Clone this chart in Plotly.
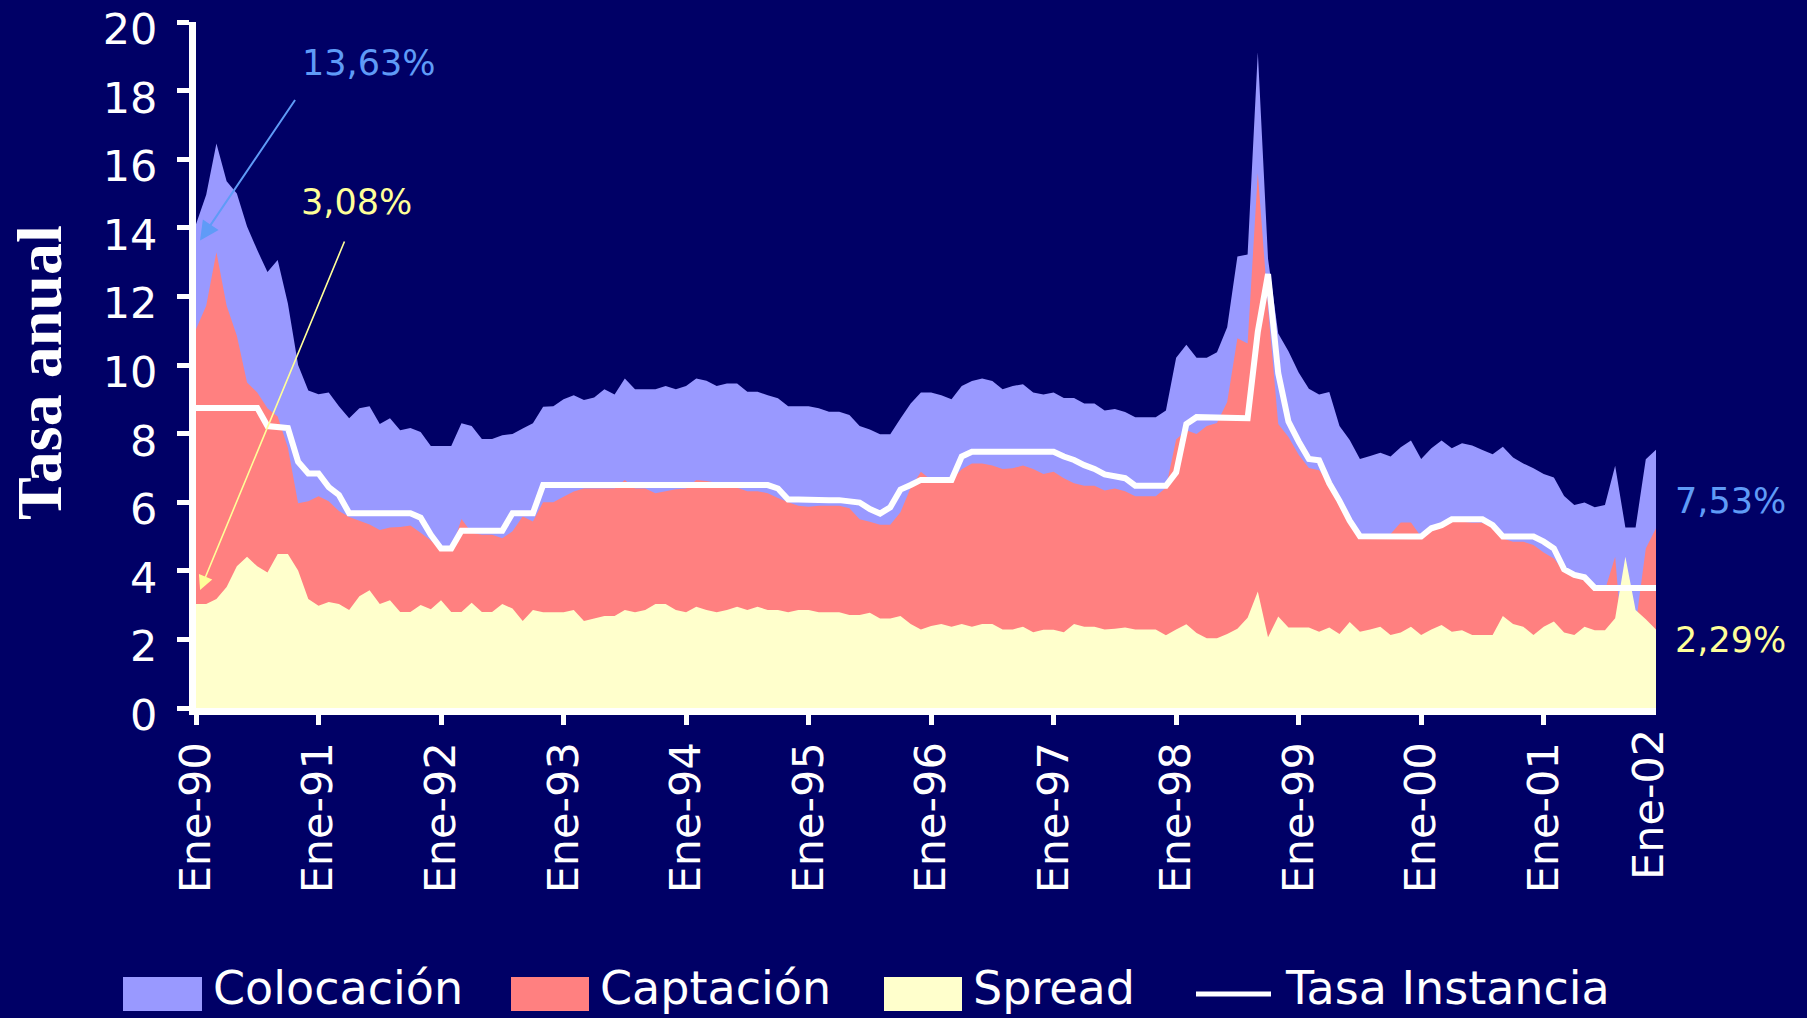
import plotly.graph_objects as go

# ---------------- data (monthly, Ene-90 .. Dic-01) ----------------
meses_abrev = ["Ene", "Feb", "Mar", "Abr", "May", "Jun", "Jul", "Ago", "Sep", "Oct", "Nov", "Dic"]
anios = ["90", "91", "92", "93", "94", "95", "96", "97", "98", "99", "00", "01"]
fechas = [f"{m}-{a}" for a in anios for m in meses_abrev]

colocacion = [
    14.10, 14.96, 16.46, 15.36, 15.00, 14.04, 13.35, 12.71, 13.06, 11.79, 10.00, 9.26,
    9.15, 9.20, 8.80, 8.45, 8.74, 8.80, 8.28, 8.45, 8.10, 8.16, 8.05, 7.64,
    7.64, 7.64, 8.30, 8.22, 7.84, 7.84, 7.95, 7.99, 8.15, 8.30, 8.78, 8.80,
    9.00, 9.12, 8.98, 9.05, 9.29, 9.14, 9.61, 9.29, 9.29, 9.29, 9.39, 9.29,
    9.39, 9.61, 9.54, 9.39, 9.46, 9.46, 9.22, 9.22, 9.12, 9.03, 8.80, 8.80,
    8.80, 8.74, 8.64, 8.64, 8.54, 8.22, 8.12, 7.98, 7.98, 8.44, 8.88, 9.20,
    9.20, 9.12, 9.00, 9.39, 9.53, 9.61, 9.53, 9.29, 9.39, 9.44, 9.20, 9.14,
    9.20, 9.04, 9.04, 8.88, 8.88, 8.67, 8.72, 8.63, 8.48, 8.48, 8.48, 8.67,
    10.21, 10.59, 10.21, 10.21, 10.37, 11.10, 13.16, 13.22, 19.12, 13.10, 10.92, 10.40,
    9.78, 9.31, 9.14, 9.21, 8.22, 7.81, 7.26, 7.35, 7.44, 7.33, 7.60, 7.80,
    7.26, 7.57, 7.80, 7.57, 7.72, 7.65, 7.52, 7.40, 7.62, 7.30, 7.13, 6.99,
    6.82, 6.72, 6.18, 5.92, 5.99, 5.85, 5.92, 7.06, 5.26, 5.26, 7.25, 7.53,
]

captacion = [
    11.04, 11.73, 13.29, 11.73, 10.85, 9.49, 9.20, 8.74, 8.50, 7.59, 5.97, 6.03,
    6.17, 6.03, 5.74, 5.57, 5.46, 5.35, 5.19, 5.26, 5.28, 5.32, 5.11, 4.88,
    4.65, 4.60, 5.51, 5.11, 5.05, 5.05, 4.95, 5.15, 5.58, 5.44, 6.00, 6.00,
    6.16, 6.31, 6.40, 6.40, 6.40, 6.40, 6.65, 6.40, 6.40, 6.26, 6.32, 6.38,
    6.40, 6.65, 6.62, 6.57, 6.50, 6.42, 6.32, 6.32, 6.26, 6.12, 6.00, 5.90,
    5.87, 5.90, 5.90, 5.90, 5.82, 5.50, 5.43, 5.34, 5.34, 5.71, 6.42, 6.89,
    6.65, 6.65, 6.65, 6.96, 7.13, 7.13, 7.07, 6.97, 6.99, 7.07, 6.97, 6.82,
    6.89, 6.70, 6.55, 6.48, 6.48, 6.34, 6.40, 6.32, 6.17, 6.17, 6.17, 6.42,
    7.83, 8.10, 7.99, 8.22, 8.31, 8.92, 10.78, 10.63, 15.60, 11.68, 8.28, 7.90,
    7.38, 7.00, 6.93, 6.55, 6.04, 5.59, 5.01, 5.01, 5.01, 5.07, 5.41, 5.41,
    4.99, 5.24, 5.33, 5.43, 5.43, 5.40, 5.40, 5.31, 4.94, 4.85, 4.85, 4.75,
    4.53, 4.36, 3.98, 3.83, 3.71, 3.44, 3.44, 4.41, 0.86, 2.40, 4.65, 5.24,
]

spread = [
    3.03, 3.03, 3.18, 3.53, 4.13, 4.41, 4.13, 3.95, 4.49, 4.49, 4.01, 3.18,
    2.98, 3.09, 3.03, 2.86, 3.26, 3.43, 3.03, 3.14, 2.80, 2.80, 3.00, 2.88,
    3.14, 2.80, 2.80, 3.07, 2.80, 2.80, 3.03, 2.90, 2.54, 2.86, 2.79, 2.79,
    2.79, 2.86, 2.54, 2.61, 2.68, 2.68, 2.86, 2.79, 2.86, 3.03, 3.03, 2.86,
    2.79, 2.95, 2.86, 2.79, 2.86, 2.95, 2.86, 2.95, 2.86, 2.86, 2.79, 2.86,
    2.86, 2.79, 2.79, 2.79, 2.71, 2.71, 2.78, 2.61, 2.61, 2.68, 2.45, 2.29,
    2.39, 2.45, 2.37, 2.45, 2.37, 2.45, 2.45, 2.29, 2.29, 2.37, 2.21, 2.28,
    2.28, 2.21, 2.45, 2.37, 2.37, 2.29, 2.31, 2.35, 2.29, 2.29, 2.29, 2.12,
    2.29, 2.44, 2.19, 2.03, 2.03, 2.16, 2.31, 2.63, 3.40, 2.06, 2.67, 2.35,
    2.35, 2.35, 2.22, 2.35, 2.16, 2.51, 2.22, 2.29, 2.37, 2.13, 2.20, 2.37,
    2.13, 2.29, 2.42, 2.22, 2.27, 2.13, 2.13, 2.13, 2.68, 2.45, 2.37, 2.13,
    2.37, 2.52, 2.20, 2.13, 2.37, 2.27, 2.27, 2.62, 4.41, 2.86, 2.59, 2.29,
]

tasa_instancia = [
    8.75, 8.75, 8.75, 8.75, 8.75, 8.75, 8.75, 8.22, 8.20, 8.16, 7.18, 6.84,
    6.84, 6.44, 6.21, 5.68, 5.68, 5.68, 5.68, 5.68, 5.68, 5.68, 5.55, 5.05,
    4.65, 4.65, 5.17, 5.17, 5.17, 5.17, 5.17, 5.68, 5.68, 5.68, 6.50, 6.50,
    6.50, 6.50, 6.50, 6.50, 6.50, 6.50, 6.50, 6.50, 6.50, 6.50, 6.50, 6.50,
    6.50, 6.50, 6.50, 6.50, 6.50, 6.50, 6.50, 6.50, 6.50, 6.40, 6.08, 6.08,
    6.06, 6.06, 6.06, 6.06, 6.03, 5.99, 5.80, 5.67, 5.85, 6.37, 6.50, 6.65,
    6.65, 6.65, 6.65, 7.33, 7.47, 7.47, 7.47, 7.47, 7.47, 7.47, 7.47, 7.47,
    7.47, 7.33, 7.23, 7.08, 6.97, 6.81, 6.74, 6.70, 6.48, 6.48, 6.48, 6.48,
    6.87, 8.28, 8.48, 8.48, 8.48, 8.48, 8.48, 8.45, 10.97, 12.65, 9.76, 8.35,
    7.77, 7.26, 7.22, 6.55, 6.04, 5.46, 5.01, 5.00, 5.00, 5.00, 5.00, 5.00,
    5.00, 5.24, 5.33, 5.50, 5.50, 5.50, 5.50, 5.33, 5.00, 5.00, 5.00, 5.00,
    4.85, 4.65, 4.04, 3.88, 3.81, 3.50, 3.50, 3.50, 3.50, 3.50, 3.50, 3.50,
]

tick_labels = [f"Ene-{a}" for a in anios]
ultima_etiqueta = "Ene-02"
y_ticks = [0, 2, 4, 6, 8, 10, 12, 14, 16, 18, 20]

series_nombres = ["Colocación", "Captación", "Spread", "Tasa Instancia"]
etiqueta_coloc_ini, etiqueta_spread_ini = "13,63%", "3,08%"
etiqueta_coloc_fin, etiqueta_spread_fin = "7,53%", "2,29%"

# ---------------- styling ----------------
BG = "#000066"
C_COL = "#9999FF"
C_CAP = "#FF8080"
C_SPR = "#FFFFCC"
C_BLUE_TXT = "#5F9BF7"
C_YEL_TXT = "#FFFF99"
FONT = "Verdana, DejaVu Sans, sans-serif"

W, H = 1807, 1018
L, R, T, B = 196, 151, 22, 310
PW, PH = W - L - R, H - T - B


def px_x(px):
    return (px - L) / PW


def px_y(py):
    return (H - B - py) / PH


fig = go.Figure()
fig.add_trace(go.Scatter(x=fechas, y=colocacion, name=series_nombres[0], mode="none",
                         fill="tozeroy", fillcolor=C_COL, showlegend=False))
fig.add_trace(go.Scatter(x=fechas, y=captacion, name=series_nombres[1], mode="none",
                         fill="tozeroy", fillcolor=C_CAP, showlegend=False))
fig.add_trace(go.Scatter(x=fechas, y=spread, name=series_nombres[2], mode="none",
                         fill="tozeroy", fillcolor=C_SPR, showlegend=False))
fig.add_trace(go.Scatter(x=fechas, y=tasa_instancia, name=series_nombres[3], mode="lines",
                         line=dict(color="white", width=6), showlegend=False))

annotations = []
# y-axis title
annotations.append(dict(text="Tasa anual", xref="paper", yref="paper", x=px_x(40), y=px_y(373),
                        textangle=-90, showarrow=False, xanchor="center", yanchor="middle",
                        font=dict(family="Liberation Serif, Times New Roman, serif", size=64,
                                  color="white", weight="bold")))
# last x label
annotations.append(dict(text=ultima_etiqueta, xref="paper", yref="paper", x=px_x(1648), y=px_y(805),
                        textangle=-90, showarrow=False, xanchor="center", yanchor="middle",
                        font=dict(family=FONT, size=43, color="white")))
# value labels
for txt, cx, cy, col in [(etiqueta_coloc_ini, 368, 63, C_BLUE_TXT),
                         (etiqueta_spread_ini, 356, 202, C_YEL_TXT),
                         (etiqueta_coloc_fin, 1730, 501, C_BLUE_TXT),
                         (etiqueta_spread_fin, 1730, 640, C_YEL_TXT)]:
    annotations.append(dict(text=txt, xref="paper", yref="paper", x=px_x(cx), y=px_y(cy),
                            showarrow=False, xanchor="center", yanchor="middle",
                            font=dict(family=FONT, size=35, color=col)))
# arrows
annotations.append(dict(text="", x=0.4, y=13.63, xref="x", yref="y", ax=96, ay=-142,
                        showarrow=True, arrowhead=2, arrowsize=1.9, arrowwidth=2,
                        arrowcolor=C_BLUE_TXT, standoff=0))
annotations.append(dict(text="", x=0.4, y=3.44, xref="x", yref="y", ax=145, ay=-350,
                        showarrow=True, arrowhead=2, arrowsize=1.8, arrowwidth=1.6,
                        arrowcolor=C_YEL_TXT, standoff=0))

# custom legend
shapes = []
leg_items = [(series_nombres[0], C_COL, 123, 202, 211, "box"),
             (series_nombres[1], C_CAP, 511, 589, 598, "box"),
             (series_nombres[2], C_SPR, 884, 962, 971, "box"),
             (series_nombres[3], "white", 1196, 1271, 1283, "line")]
for name, col, x0, x1, tx, kind in leg_items:
    if kind == "box":
        shapes.append(dict(type="rect", xref="paper", yref="paper", x0=px_x(x0), x1=px_x(x1),
                           y0=px_y(1011), y1=px_y(977), fillcolor=col, line=dict(width=0)))
    else:
        shapes.append(dict(type="line", xref="paper", yref="paper", x0=px_x(x0), x1=px_x(x1),
                           y0=px_y(994), y1=px_y(994), line=dict(color=col, width=5)))
    annotations.append(dict(text=name, xref="paper", yref="paper", x=px_x(tx), y=px_y(988),
                            showarrow=False, xanchor="left", yanchor="middle",
                            font=dict(family=FONT, size=46, color="white")))

fig.update_layout(
    width=W, height=H,
    margin=dict(l=L, r=R, t=T, b=B, pad=0, autoexpand=False),
    paper_bgcolor=BG, plot_bgcolor=BG,
    showlegend=False,
    annotations=annotations,
    shapes=shapes,
    xaxis=dict(type="category", range=[0, len(fechas) - 1], tickmode="array",
               tickvals=tick_labels, ticktext=tick_labels, tickangle=-90,
               ticks="outside", ticklen=10, tickwidth=5, tickcolor="white",
               showline=True, linecolor="white", linewidth=7, automargin=False,
               showgrid=False, zeroline=False, ticklabelstandoff=0,
               tickfont=dict(family=FONT, size=43, color="white")),
    yaxis=dict(range=[0, 20], tickmode="array", tickvals=y_ticks,
               ticktext=[str(v) for v in y_ticks], ticklabeloverflow="allow",
               ticks="outside", ticklen=12, tickwidth=5, tickcolor="white",
               showline=True, linecolor="white", linewidth=7, automargin=False,
               showgrid=False, zeroline=False, ticklabelstandoff=11, ticklabelshift=7,
               tickfont=dict(family=FONT, size=43, color="white")),
)

fig.write_html("out.html", config={"displayModeBar": False},
               post_script="document.body.style.margin='0px';")
